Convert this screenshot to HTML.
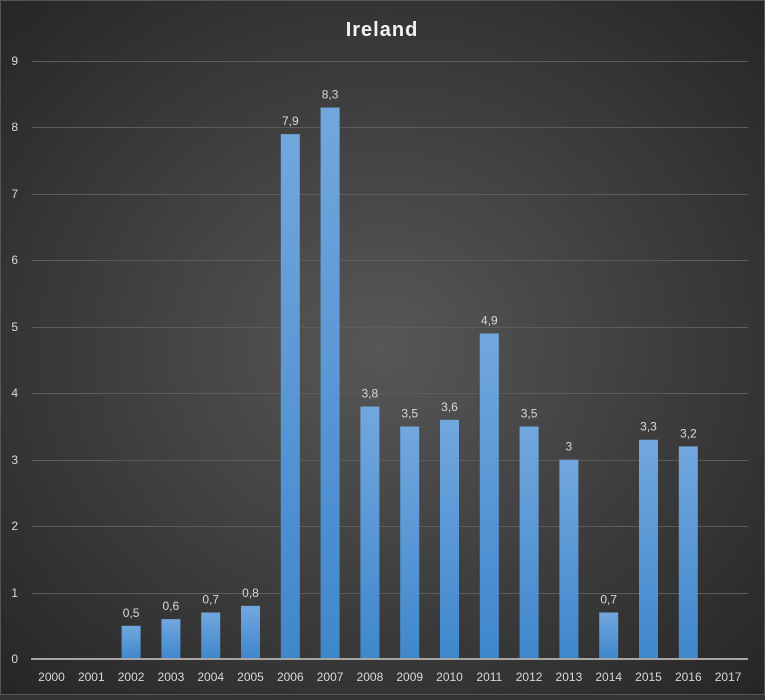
<!DOCTYPE html>
<html><head><style>
body{margin:0;width:765px;height:695px;overflow:hidden;background:#333}
</style></head><body>
<svg width="765" height="695" xmlns="http://www.w3.org/2000/svg" font-family="Liberation Sans, sans-serif">
<defs>
<radialGradient id="bg" cx="50%" cy="50%" r="70%">
<stop offset="0" stop-color="#575757"/><stop offset="1" stop-color="#262626"/>
</radialGradient>
<linearGradient id="bar" x1="0" y1="0" x2="0" y2="1">
<stop offset="0" stop-color="#72a7de"/><stop offset="1" stop-color="#3f87cc"/>
</linearGradient>
</defs>
<rect width="765" height="695" fill="url(#bg)"/>
<rect x="0.5" y="0.5" width="764" height="694" fill="none" stroke="#555"/>
<text x="382" y="36" text-anchor="middle" fill="#f2f2f2" font-size="20" font-weight="bold" letter-spacing="1">Ireland</text>
<g stroke="#5c5c5c" stroke-width="1">
<line x1="32" x2="748" y1="61.5" y2="61.5"/><line x1="32" x2="748" y1="127.5" y2="127.5"/>
<line x1="32" x2="748" y1="194.5" y2="194.5"/><line x1="32" x2="748" y1="260.5" y2="260.5"/>
<line x1="32" x2="748" y1="327.5" y2="327.5"/><line x1="32" x2="748" y1="393.5" y2="393.5"/>
<line x1="32" x2="748" y1="460.5" y2="460.5"/><line x1="32" x2="748" y1="526.5" y2="526.5"/>
<line x1="32" x2="748" y1="593.5" y2="593.5"/>
</g>
<g fill="#d9d9d9" font-size="12" text-anchor="end">
<text x="18" y="65">9</text><text x="18" y="131">8</text><text x="18" y="198">7</text>
<text x="18" y="264">6</text><text x="18" y="331">5</text><text x="18" y="397">4</text>
<text x="18" y="464">3</text><text x="18" y="530">2</text><text x="18" y="597">1</text><text x="18" y="663">0</text>
</g>
<g id="bars"></g>
<line x1="31" x2="748" y1="659" y2="659" stroke="#a6a6a6" stroke-width="2"/>
<g id="xl" fill="#d9d9d9" font-size="12" text-anchor="middle"></g>
<g id="lbl" fill="#d9d9d9" font-size="12" text-anchor="middle"></g>
</svg>
<script>
var vals=[null,null,.5,.6,.7,.8,7.9,8.3,3.8,3.5,3.6,4.9,3.5,3,.7,3.3,3.2,null];
var ns="http://www.w3.org/2000/svg";
function el(t,a,txt,p){var e=document.createElementNS(ns,t);for(var k in a)e.setAttribute(k,a[k]);if(txt)e.textContent=txt;document.getElementById(p).appendChild(e);}
for(var i=0;i<18;i++){var c=51.5+i*39.8;
el("text",{x:c,y:681},String(2000+i),"xl");
var v=vals[i];if(v!==null){var h=v*66.44;
el("rect",{x:c-9.5,y:659-h,width:19,height:h,fill:"url(#bar)"},null,"bars");
el("text",{x:c,y:659-h-9},String(v).replace(".",","),"lbl");}}
</script>
</body></html>
